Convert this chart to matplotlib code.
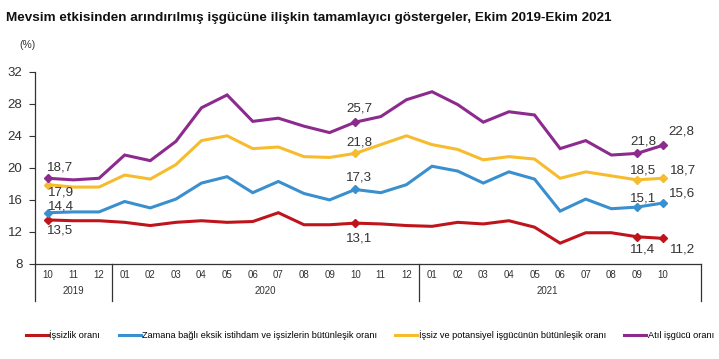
import matplotlib
matplotlib.use("Agg")
import matplotlib.pyplot as plt
from matplotlib.lines import Line2D
import numpy as np

# ---------------- data ----------------
months = ["10", "11", "12",
          "01", "02", "03", "04", "05", "06", "07", "08", "09", "10", "11", "12",
          "01", "02", "03", "04", "05", "06", "07", "08", "09", "10"]
years = ["2019", "2020", "2021"]
year_counts = [3, 12, 10]

issizlik = [13.5, 13.4, 13.4,
            13.2, 12.8, 13.2, 13.4, 13.2, 13.3, 14.4, 12.9, 12.9, 13.1, 13.0, 12.8,
            12.7, 13.2, 13.0, 13.4, 12.6, 10.6, 11.9, 11.9, 11.4, 11.2]
zamana = [14.4, 14.5, 14.5,
          15.8, 15.0, 16.1, 18.1, 18.9, 16.9, 18.3, 16.8, 16.0, 17.3, 16.9, 17.9,
          20.2, 19.6, 18.1, 19.5, 18.6, 14.6, 16.1, 14.9, 15.1, 15.6]
potansiyel = [17.9, 17.6, 17.6,
              19.1, 18.6, 20.4, 23.4, 24.0, 22.4, 22.6, 21.4, 21.3, 21.8, 22.9, 24.0,
              22.9, 22.3, 21.0, 21.4, 21.1, 18.7, 19.5, 19.0, 18.5, 18.7]
atil = [18.7, 18.5, 18.7,
        21.6, 20.9, 23.3, 27.5, 29.1, 25.8, 26.2, 25.2, 24.4, 25.7, 26.4, 28.5,
        29.5, 27.9, 25.7, 27.0, 26.6, 22.4, 23.4, 21.6, 21.8, 22.8]

series_names = ["İşsizlik oranı",
                "Zamana bağlı eksik istihdam ve işsizlerin bütünleşik oranı",
                "İşsiz ve potansiyel işgücünün bütünleşik oranı",
                "Atıl işgücü oranı"]
labelled_idx = [0, 12, 23, 24]

# ---------------- style ----------------
colors = ["#C0141C", "#3A8FCF", "#F7BC2E", "#8C2A8E"]
REG = ["Liberation Sans", "DejaVu Sans"]
plt.rcParams["font.family"] = REG

# label offsets (pixels) per series, per labelled index
offsets = [
    {0: (12, -11), 12: (4, -15), 23: (6, -13), 24: (20, -11)},
    {0: (13, 6), 12: (4, 12), 23: (6, 9), 24: (20, 10)},
    {0: (13, -8), 12: (4, 11), 23: (6, 9), 24: (20, 8)},
    {0: (12, 11), 12: (4, 14), 23: (6, 12), 24: (19, 14)},
]

W, H = 719, 359
fig = plt.figure(figsize=(W / 100, H / 100), dpi=100)
ax = fig.add_axes([35 / W, 1 - 264 / H, (701 - 35) / W, (264 - 71.7) / H])

x = np.arange(len(months))
data = [issizlik, zamana, potansiyel, atil]
for vals, col, offs in zip(data, colors, offsets):
    ax.plot(x, vals, color=col, lw=2.2, solid_joinstyle="miter", zorder=3)
    xi = np.array(labelled_idx)
    ax.plot(xi, np.array(vals)[xi], ls="none", marker="D", ms=4.5, color=col, zorder=4)
    for i in labelled_idx:
        ax.annotate(f"{vals[i]:.1f}".replace(".", ","), (x[i], vals[i]),
                    xytext=offs[i], textcoords="offset pixels",
                    ha="center", va="center", fontsize=9.6, color="#333333",
                    zorder=5)

ax.set_xlim(-0.5, 25.5)
ax.set_ylim(8, 32)
ax.set_yticks(np.arange(8, 33, 4))
ax.tick_params(axis="y", direction="out", length=4, width=0.8, pad=5,
               labelsize=9.5, labelcolor="#333333", color="#333333")
ax.set_xticks([])
for s in ["top", "right"]:
    ax.spines[s].set_visible(False)
for s in ["left", "bottom"]:
    ax.spines[s].set_color("#333333")
    ax.spines[s].set_linewidth(0.9)

trans = ax.get_xaxis_transform()
# month labels
for xi, m in zip(x, months):
    ax.text(xi, -0.058, m, transform=trans, ha="center", va="center",
            fontsize=7, color="#333333")
# year separators and year labels
bounds = np.concatenate([[0], np.cumsum(year_counts)]) - 0.5
sep_positions = list(bounds[:-1]) + [25.5]
for b in sep_positions:
    ax.plot([b, b], [0, -0.19], transform=trans, color="#333333", lw=0.9,
            clip_on=False)
for yname, a, b in zip(years, bounds[:-1], bounds[1:]):
    ax.text((a + b) / 2, -0.14, yname, transform=trans, ha="center", va="center",
            fontsize=7, color="#333333")

fig.text(6 / W, 1 - 18 / H,
         "Mevsim etkisinden arındırılmış işgücüne ilişkin tamamlayıcı göstergeler, Ekim 2019-Ekim 2021",
         fontsize=9.7, fontweight="bold", ha="left", va="center",
         color="#111111")
fig.text(27 / W, 1 - 45 / H, "(%)", fontsize=7.5, ha="center",
         va="center", color="#333333")

handles = [Line2D([], [], color=c, lw=2.2) for c in colors]
fig.legend(handles, series_names, loc="center", bbox_to_anchor=(370 / W, 1 - 335 / H),
           ncol=4, frameon=False, prop={"size": 6.6},
           handlelength=2.4, handletextpad=0.15, columnspacing=2.0,
           borderpad=0, borderaxespad=0)

fig.savefig("out.png", dpi=100)
